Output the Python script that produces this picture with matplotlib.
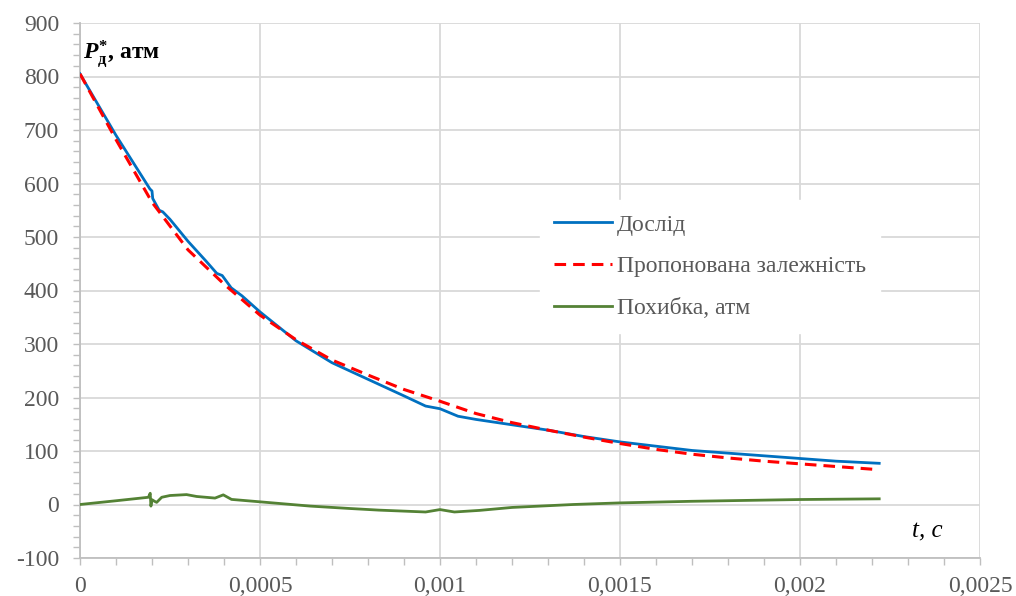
import numpy as np
import matplotlib
matplotlib.use('Agg')
import matplotlib.pyplot as plt
from matplotlib.ticker import MultipleLocator, FuncFormatter

plt.rcParams['font.family'] = ['Liberation Serif', 'DejaVu Serif']
plt.rcParams['axes.unicode_minus'] = False
plt.rcParams['mathtext.fontset'] = 'custom'
plt.rcParams['mathtext.rm'] = 'Liberation Serif:bold'
plt.rcParams['mathtext.it'] = 'Liberation Serif:italic:bold'
plt.rcParams['mathtext.bf'] = 'Liberation Serif:bold'

# experiment (Дослід)
t_exp = [0, 0.0001, 0.000194, 0.0002, 0.000202, 0.00022, 0.00023, 0.00025,
         0.0003, 0.00035, 0.00038, 0.000395, 0.00042, 0.00045, 0.0005,
         0.0006, 0.0007, 0.0008, 0.0009, 0.00096, 0.001, 0.00105, 0.0011,
         0.0012, 0.0013, 0.0014, 0.0015, 0.0016, 0.0017, 0.0018, 0.0019,
         0.002, 0.0021, 0.00222]
p_exp = [805, 690, 590, 586, 572, 550, 547, 533,
         492, 455, 432, 428, 405, 390, 360,
         306, 265, 234, 203, 184, 179, 165, 159,
         149, 139, 127, 117, 109, 101, 96, 91,
         86, 81, 77]

# proposed dependence (Пропонована залежність)
t_mod = [0, 0.0001, 0.0002, 0.0003, 0.0004, 0.0005, 0.0006, 0.0007, 0.0008,
         0.0009, 0.001, 0.0011, 0.0012, 0.0013, 0.0014, 0.0015, 0.0016,
         0.0017, 0.0018, 0.0019, 0.002, 0.0021, 0.00222]
p_mod = [805, 682, 565, 476, 412, 354, 308, 270, 242,
         215, 193, 170, 153, 139, 126, 114, 103,
         94, 87, 81, 76, 71, 65]

# error (Похибка, атм)
t_err = [0, 0.0001, 0.00019, 0.000195, 0.000197, 0.0002, 0.000207, 0.000213,
         0.000227, 0.00025, 0.000296, 0.000324, 0.000375, 0.000398, 0.000421,
         0.0005, 0.00064, 0.00075, 0.00083, 0.00096, 0.001, 0.00104, 0.00111,
         0.0012, 0.00137, 0.0015, 0.0017, 0.002, 0.00222]
p_err = [0, 7, 13.5, 21, -3, 9, 6, 4,
         13.5, 16.8, 18.5, 15, 12, 18, 9.5,
         5, -3, -7.5, -10.5, -14, -9.5, -14, -11,
         -5.5, 0, 3, 6, 9.3, 10.6]

fig = plt.figure(figsize=(10.16, 5.96), dpi=100)
ax = fig.add_axes([80/1016, 1-558/596, 900/1016, 535/596])

ax.plot(t_exp, p_exp, color='#0070C0', lw=2.0, label='Дослід', zorder=3)
ax.plot(t_mod, p_mod, color='#FF0000', lw=2.2, ls=(0, (3.8, 2.3)),
        label='Пропонована залежність', zorder=4)
ax.plot(t_err, p_err, color='#548235', lw=2.0, label='Похибка, атм', zorder=3)

ax.set_xlim(0, 0.0025)
ax.set_ylim(-100, 900)
ax.xaxis.set_major_locator(MultipleLocator(0.0005))
ax.xaxis.set_minor_locator(MultipleLocator(0.0001))
ax.yaxis.set_major_locator(MultipleLocator(100))
ax.yaxis.set_minor_locator(MultipleLocator(20))
ax.xaxis.set_major_formatter(FuncFormatter(lambda v, p: '{:g}'.format(round(v, 6)).replace('.', ',')))

ax.grid(True, which='major', color='#D9D9D9', lw=1.3)
ax.set_axisbelow(True)
for s in ['top', 'right']:
    ax.spines[s].set_visible(False)
for s in ['left', 'bottom']:
    ax.spines[s].set_color('#BFBFBF')
    ax.spines[s].set_linewidth(1.3)

ax.tick_params(which='both', direction='out', color='#BFBFBF', width=1.0,
               labelsize=17, labelcolor='#595959')
ax.tick_params(which='major', length=5)
ax.tick_params(which='minor', length=5)
ax.tick_params(axis='x', pad=8)
ax.tick_params(axis='y', pad=10)

ax.text(0.000008, 833, r'$P^{*}_{\mathrm{д}}$, атм', fontsize=17,
        fontweight='bold', color='black', va='baseline', ha='left')
ax.text(0.00231, -61, 't, c', fontsize=18, style='italic',
        color='black', va='baseline', ha='left')

leg = ax.legend(loc='center', bbox_to_anchor=(0.70, 0.545), fontsize=17,
                frameon=True, facecolor='white', edgecolor='white',
                framealpha=1, fancybox=False, handlelength=2.45,
                handletextpad=0.2, labelspacing=0.85, borderpad=0.6)
for txt in leg.get_texts():
    txt.set_color('#595959')

fig.savefig('out.png', dpi=100)
